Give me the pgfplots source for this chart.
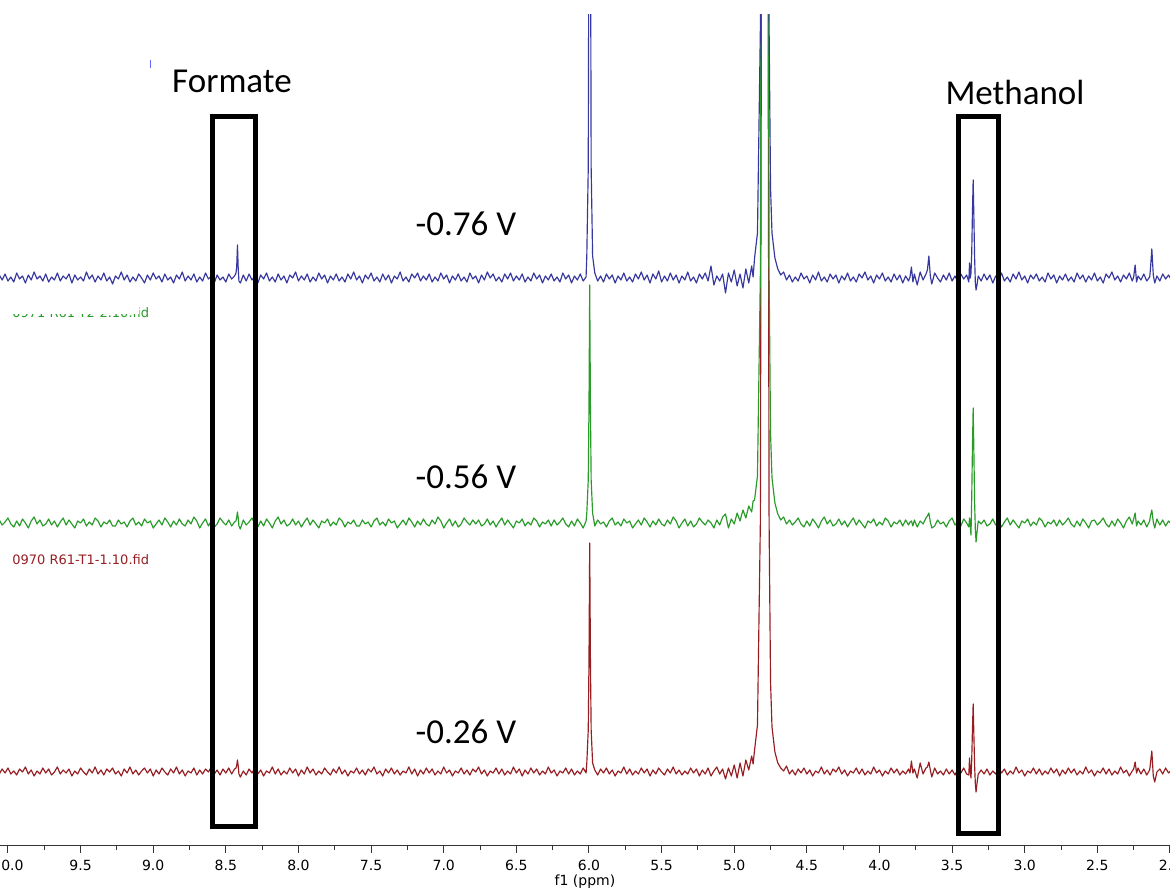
\documentclass[border=0pt]{standalone}
\usepackage{pgfplots}
\pgfplotsset{compat=1.18}
\usepackage{pgfplotstable}
\usepackage{fontspec}
\setmainfont{Carlito}
\newfontfamily\tickfont{DejaVu Sans}
\definecolor{specblue}{RGB}{55,55,160}
\definecolor{specgreen}{RGB}{40,155,40}
\definecolor{specred}{RGB}{150,30,35}
\pgfplotstableread{
x b g r
10.06 573 328 74
10.04 568 323 79
10.02 574 326 75
10.00 567 330 80
9.98 571 324 74
9.96 566 321 77
9.94 575 327 73
9.92 569 322 79
9.90 572 329 76
9.88 565 325 81
9.86 573 320 74
9.84 568 327 78
9.82 576 331 72
9.80 569 324 77
9.78 572 328 74
9.76 567 322 80
9.74 574 324 75
9.72 566 329 79
9.70 571 323 73
9.68 568 327 76
9.66 575 321 81
9.64 567 326 74
9.62 572 330 78
9.60 569 323 75
9.58 574 328 79
9.56 565 324 72
9.54 573 320 77
9.52 568 327 74
9.50 571 325 80
9.48 567 329 76
9.46 576 322 73
9.44 569 326 79
9.42 573 323 75
9.40 566 330 81
9.38 572 327 74
9.36 568 321 78
9.34 575 326 73
9.32 567 324 79
9.30 571 328 76
9.28 564 322 80
9.26 572 322 74
9.24 569 328 77
9.22 576 324 72
9.20 568 326 79
9.18 573 321 75
9.16 566 327 81
9.14 571 330 74
9.12 567 323 78
9.10 574 326 73
9.08 570 322 77
9.06 565 329 80
9.04 573 325 75
9.02 568 327 79
9.00 575 320 72
8.98 569 324 78
8.96 572 328 74
8.94 566 323 80
8.92 574 330 76
8.90 568 326 73
8.88 571 321 79
8.86 565 327 75
8.84 573 323 81
8.82 569 329 74
8.80 576 324 78
8.78 567 322 72
8.76 572 328 77
8.74 568 324 75
8.72 574 331 80
8.70 566 327 73
8.68 571 320 78
8.66 567 325 74
8.64 575 329 79
8.62 569 322 76
8.60 572 327 81
8.58 565 321 74
8.56 573 324 78
8.54 568 330 73
8.52 571 326 79
8.50 566 323 75
8.48 574 328 80
8.46 569 322 74
8.44 572 326 79
8.43 575 327 80
8.425 582 331 83
8.42 603 336 88
8.415 580 330 82
8.41 567 322 74
8.40 565 319 71
8.38 573 328 77
8.36 567 323 73
8.34 574 326 79
8.32 568 330 75
8.30 572 324 80
8.28 565 321 74
8.26 573 327 78
8.24 569 322 72
8.22 575 329 77
8.20 567 325 75
8.18 571 320 81
8.16 566 327 74
8.14 574 331 79
8.12 568 324 73
8.10 572 328 77
8.08 565 322 74
8.06 573 324 80
8.04 570 329 75
8.02 576 323 79
8.00 567 327 72
7.98 572 321 78
7.96 568 326 74
7.94 574 330 81
7.92 566 323 75
7.90 571 328 79
7.88 567 324 73
7.86 575 320 77
7.84 569 327 74
7.82 573 325 80
7.80 565 329 76
7.78 572 322 73
7.76 568 326 79
7.74 574 323 75
7.72 567 330 81
7.70 571 327 74
7.68 566 321 78
7.66 574 326 72
7.64 569 324 77
7.62 576 328 75
7.60 568 322 80
7.58 572 322 74
7.56 565 328 78
7.54 573 324 73
7.52 569 326 79
7.50 575 321 76
7.48 567 327 81
7.46 571 330 74
7.44 566 323 77
7.42 574 326 72
7.40 568 322 79
7.38 573 329 75
7.36 565 325 80
7.34 572 327 74
7.32 569 320 78
7.30 576 324 73
7.28 567 328 77
7.26 571 323 75
7.24 566 330 81
7.22 574 326 74
7.20 570 321 79
7.18 575 327 72
7.16 567 323 78
7.14 572 329 74
7.12 568 324 80
7.10 574 322 75
7.08 566 328 79
7.06 571 324 73
7.04 567 331 77
7.02 575 327 74
7.00 569 320 81
6.98 573 325 75
6.96 565 329 78
6.94 572 322 72
6.92 568 327 77
6.90 574 321 75
6.88 567 324 80
6.86 571 330 74
6.84 566 326 78
6.82 575 323 73
6.80 569 328 79
6.78 572 324 76
6.76 565 328 81
6.74 573 322 74
6.72 568 324 78
6.70 576 329 72
6.68 570 323 77
6.66 574 327 75
6.64 567 321 80
6.62 571 326 74
6.60 566 330 79
6.58 574 323 73
6.56 569 328 77
6.54 575 324 74
6.52 567 320 81
6.50 572 327 75
6.48 568 325 79
6.46 574 329 72
6.44 566 322 78
6.42 571 326 74
6.40 567 323 80
6.38 575 330 75
6.36 569 327 79
6.34 573 321 73
6.32 565 326 77
6.30 572 324 74
6.28 568 328 81
6.26 574 322 75
6.24 567 328 78
6.22 571 323 72
6.20 566 326 77
6.18 575 330 75
6.16 569 324 80
6.14 573 321 74
6.12 565 327 79
6.10 572 322 73
6.08 568 329 77
6.06 574 325 74
6.04 567 320 80
6.02 571 327 75
6.015 592 335 85
6.005 680 368 118
6.00 970 440 186
5.995 1570 563 305
5.99 970 440 186
5.985 680 368 118
5.975 592 335 85
5.96 575 322 78
5.94 567 328 73
5.92 572 324 79
5.90 566 326 75
5.88 574 321 80
5.86 569 327 74
5.84 573 330 78
5.82 565 323 72
5.80 572 326 77
5.78 568 322 75
5.76 575 329 81
5.74 567 325 74
5.72 571 327 79
5.70 566 320 73
5.68 574 324 77
5.66 569 328 74
5.64 576 323 80
5.62 568 330 75
5.60 573 326 79
5.58 565 321 72
5.56 574 327 78
5.54 569 323 74
5.52 577 329 80
5.50 566 324 76
5.48 572 322 73
5.46 567 328 79
5.44 575 324 75
5.42 568 331 81
5.40 573 327 74
5.38 565 320 78
5.36 572 325 73
5.34 568 329 77
5.32 576 322 74
5.30 567 327 80
5.28 571 321 75
5.26 565 324 79
5.24 574 330 72
5.22 569 326 78
5.20 575 323 74
5.18 567 328 80
5.16 582 325 72
5.14 563 320 77
5.12 572 328 81
5.10 567 323 74
5.08 574 331 79
5.06 555 334 69
5.04 575 320 80
5.02 566 329 72
5.00 578 324 83
4.98 562 335 70
4.96 574 327 85
4.94 560 338 72
4.92 579 330 88
4.90 565 342 78
4.88 582 336 92
4.87 571 347 84
4.86 590 348 98
4.84 615 372 123
4.82 820 575 326
4.81 1570 1325 1076
4.80 3070 2825 2576
4.79 5570 5325 5076
4.78 3070 2825 2576
4.77 1570 1325 1076
4.76 820 575 326
4.75 660 415 166
4.74 615 370 121
4.72 590 345 96
4.70 579 334 85
4.68 573 328 80
4.66 576 331 77
4.64 568 324 82
4.62 573 328 74
4.60 566 323 78
4.58 571 326 73
4.56 567 330 79
4.54 575 324 75
4.52 569 321 80
4.50 572 327 74
4.48 565 322 78
4.46 573 329 72
4.44 568 325 77
4.42 576 320 75
4.40 567 327 81
4.38 571 331 74
4.36 566 324 78
4.34 574 328 73
4.32 569 322 79
4.30 573 324 76
4.28 565 329 81
4.26 572 323 74
4.24 568 327 78
4.22 575 321 72
4.20 567 326 77
4.18 571 330 75
4.16 566 323 80
4.14 574 328 74
4.12 570 324 79
4.10 576 320 73
4.08 568 327 77
4.06 572 325 74
4.04 565 329 81
4.02 573 322 75
4.00 569 326 78
3.98 575 323 72
3.96 567 330 77
3.94 571 327 74
3.92 566 321 80
3.90 574 326 75
3.88 568 324 79
3.86 573 328 73
3.84 565 322 77
3.82 572 328 74
3.80 567 323 79
3.79 571 326 75
3.78 581 327 87
3.77 566 322 75
3.76 574 328 79
3.74 563 321 70
3.72 576 327 85
3.70 568 324 74
3.68 574 330 80
3.67 578 332 81
3.66 592 335 86
3.65 572 326 78
3.64 564 320 71
3.62 575 322 80
3.60 570 328 74
3.58 566 324 77
3.56 573 326 73
3.54 568 321 79
3.52 575 327 74
3.50 567 330 78
3.48 572 323 73
3.46 566 326 79
3.44 574 322 75
3.42 569 329 80
3.40 573 325 74
3.385 566 321 73
3.38 585 330 90
3.375 570 322 76
3.37 575 313 70
3.365 595 350 88
3.36 635 400 118
3.355 668 440 144
3.35 630 395 112
3.345 590 345 82
3.34 565 318 64
3.335 558 306 56
3.33 562 314 63
3.32 572 327 74
3.30 567 324 78
3.28 574 328 74
3.26 568 322 79
3.24 573 324 73
3.22 565 329 77
3.20 572 323 74
3.18 568 327 80
3.16 575 321 75
3.14 567 326 79
3.12 571 330 73
3.10 566 323 77
3.08 574 328 74
3.06 569 324 81
3.04 576 320 75
3.02 568 327 78
3.00 572 325 72
2.98 565 329 77
2.96 573 322 75
2.94 569 326 80
2.92 574 323 74
2.90 567 330 79
2.88 571 327 73
2.86 566 321 77
2.84 575 326 74
2.82 569 324 80
2.80 573 328 75
2.78 565 322 79
2.76 572 328 72
2.74 568 323 78
2.72 574 326 74
2.70 567 330 80
2.68 571 324 75
2.66 566 321 79
2.64 575 327 73
2.62 569 322 77
2.60 573 329 74
2.58 566 325 81
2.56 572 320 75
2.54 568 327 78
2.52 575 328 72
2.50 567 323 77
2.48 571 326 75
2.46 565 330 80
2.44 574 324 74
2.42 570 321 79
2.40 576 327 73
2.38 568 322 77
2.36 572 329 74
2.34 566 325 81
2.32 573 320 75
2.30 569 327 78
2.28 575 331 72
2.26 567 324 77
2.25 571 329 79
2.24 583 335 86
2.23 566 322 75
2.22 572 327 80
2.20 568 323 74
2.18 574 328 79
2.16 567 321 73
2.14 571 327 78
2.135 578 332 84
2.125 599 338 97
2.115 573 326 72
2.105 565 320 66
2.09 572 329 76
2.07 567 323 79
2.05 574 328 74
2.03 569 322 80
2.01 573 327 75
1.99 568 324 78
}\spectra
\begin{document}
\begin{tikzpicture}
\useasboundingbox (0,0) rectangle (702pt,535.8pt);
\begin{axis}[
  at={(0pt,28.2pt)}, anchor=south west,
  scale only axis, width=702pt, height=498.6pt,
  x dir=reverse, xmin=2.0, xmax=10.055, ymin=2, ymax=833,
  axis x line*=bottom, hide y axis,
  axis line style={black!80, line width=0.6pt},
  xtick={2,2.5,...,10}, minor x tick num=1,
  tick align=outside, major tick length=4.2pt, minor tick length=2.4pt,
  tick style={black!80, line width=0.6pt},
  /pgf/number format/assume math mode=true,
  xticklabel style={font=\tickfont\fontsize{8.4pt}{9pt}\selectfont, yshift=-0.6pt, /pgf/number format/.cd, fixed, fixed zerofill, precision=1},
  xlabel={f1 (ppm)},
  xlabel style={font=\tickfont\fontsize{8.4pt}{9pt}\selectfont, yshift=4.5pt},
  clip=true,
]
\addplot[specred, line width=0.7pt, line join=round] table[x=x,y=r]{\spectra};
\addplot[specgreen, line width=0.7pt, line join=round] table[x=x,y=g]{\spectra};
\addplot[specblue, line width=0.7pt, line join=round] table[x=x,y=b]{\spectra};
\draw[black, line width=3pt] (axis cs:8.595,21) rectangle (axis cs:8.299,731);
\draw[black, line width=3pt] (axis cs:3.459,14) rectangle (axis cs:3.184,731);
\node[font=\fontsize{21pt}{25pt}\selectfont] at (axis cs:8.458,767) {Formate};
\node[font=\fontsize{21pt}{25pt}\selectfont] at (axis cs:3.067,756) {Methanol};
\node[font=\fontsize{21pt}{25pt}\selectfont] at (axis cs:6.847,624) {-0.76 V};
\node[font=\fontsize{21pt}{25pt}\selectfont] at (axis cs:6.847,371) {-0.56 V};
\node[font=\fontsize{21pt}{25pt}\selectfont] at (axis cs:6.847,116) {-0.26 V};
\node[anchor=west, inner sep=0pt, text=specred, font=\tickfont\fontsize{7.8pt}{9pt}\selectfont] at (axis cs:9.972,288) {0970 R61-T1-1.10.fid};
\node[anchor=west, inner sep=0pt, text=specgreen, font=\tickfont\fontsize{7.8pt}{9pt}\selectfont] at (axis cs:9.972,535) {0971 R61-T2-2.10.fid};
\fill[white] (axis cs:10.06,533.5) rectangle (axis cs:9.098,552);
\draw[blue!60, line width=0.6pt] (axis cs:9.022,780) -- (axis cs:9.022,788);
\end{axis}
\end{tikzpicture}
\end{document}
